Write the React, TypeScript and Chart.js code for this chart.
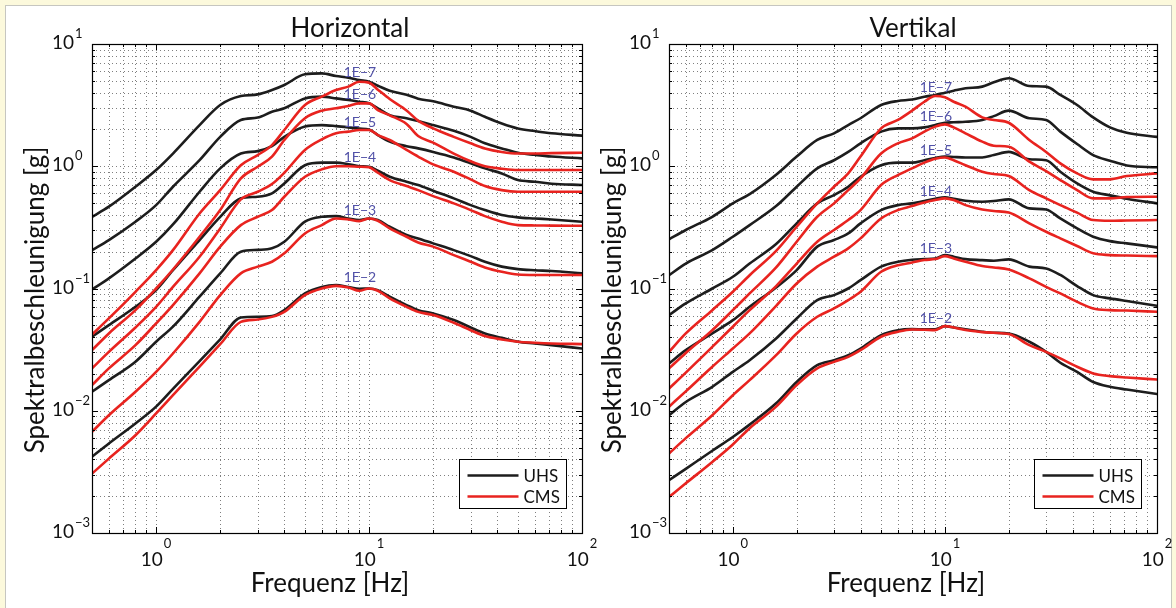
import React, { useEffect, useRef } from "react";
import { Chart, registerables } from "chart.js";

Chart.register(...registerables);

// ---------- data ----------
const freqs = [0.5, 0.6, 0.8, 1, 1.2, 1.6, 2, 2.5, 3, 3.5, 4, 5, 6, 7, 8, 9, 10, 11, 12.5, 15, 17, 20, 25, 30, 35, 42, 50, 60, 72, 100];

const levels = ["1E\u22127", "1E\u22126", "1E\u22125", "1E\u22124", "1E\u22123", "1E\u22122"];
const legendNames = ["UHS", "CMS"];
const xMajorTicks = [1, 10, 100];
const yMajorTicks = [0.001, 0.01, 0.1, 1, 10];
const labelFreq = 7.6;

// Horizontal – UHS
const hUhs7 = [0.386, 0.467, 0.68, 0.931, 1.27, 2.17, 3.17, 3.75, 3.87, 4.2, 4.62, 5.65, 5.75, 5.47, 5.3, 5.07, 4.91, 4.56, 4.15, 3.85, 3.57, 3.4, 3.07, 2.85, 2.54, 2.24, 2.04, 1.94, 1.86, 1.78];
const hUhs6 = [0.206, 0.249, 0.352, 0.481, 0.68, 1.12, 1.74, 2.39, 2.5, 2.79, 2.98, 3.59, 3.71, 3.59, 3.48, 3.37, 3.27, 2.98, 2.62, 2.47, 2.34, 2.17, 1.95, 1.74, 1.54, 1.4, 1.29, 1.24, 1.2, 1.16];
const hUhs5 = [0.0982, 0.121, 0.176, 0.241, 0.334, 0.619, 0.961, 1.27, 1.33, 1.46, 1.74, 2.11, 2.17, 2.13, 2.08, 2.03, 2.0, 1.8, 1.59, 1.46, 1.4, 1.31, 1.18, 1.06, 0.961, 0.874, 0.771, 0.747, 0.72, 0.702];
const hUhs4 = [0.0403, 0.0501, 0.0708, 0.097, 0.141, 0.249, 0.386, 0.546, 0.563, 0.6, 0.724, 1.02, 1.07, 1.07, 1.04, 1.0, 0.99, 0.919, 0.821, 0.747, 0.702, 0.63, 0.546, 0.481, 0.438, 0.399, 0.382, 0.374, 0.367, 0.352];
const hUhs3 = [0.0143, 0.0178, 0.0252, 0.0367, 0.0487, 0.0857, 0.133, 0.2, 0.207, 0.213, 0.241, 0.352, 0.386, 0.391, 0.374, 0.363, 0.374, 0.363, 0.32, 0.274, 0.257, 0.234, 0.206, 0.184, 0.1655, 0.151, 0.144, 0.141, 0.139, 0.133];
const hUhs2 = [0.0042, 0.0054, 0.00787, 0.0108, 0.0151, 0.0255, 0.0384, 0.058, 0.0588, 0.0595, 0.0665, 0.0911, 0.103, 0.1066, 0.103, 0.0996, 0.1001, 0.097, 0.0857, 0.0732, 0.0665, 0.0625, 0.0552, 0.048, 0.0429, 0.0395, 0.0367, 0.0355, 0.0344, 0.0323];

// Horizontal – CMS
const hCms7 = [0.042, 0.0569, 0.094, 0.1415, 0.206, 0.411, 0.638, 1.02, 1.235, 1.49, 1.98, 3.17, 3.71, 4.2, 4.48, 4.91, 4.82, 4.23, 3.55, 2.86, 2.36, 2.04, 1.74, 1.54, 1.4, 1.31, 1.27, 1.27, 1.28, 1.29];
const hCms6 = [0.0313, 0.0429, 0.0665, 0.1, 0.143, 0.265, 0.438, 0.796, 0.99, 1.2, 1.64, 2.47, 2.85, 2.98, 3.11, 3.27, 3.27, 2.88, 2.61, 2.22, 1.77, 1.56, 1.27, 1.1, 1.0, 0.955, 0.931, 0.931, 0.931, 0.931];
const hCms5 = [0.0222, 0.0303, 0.048, 0.0708, 0.103, 0.182, 0.31, 0.536, 0.619, 0.715, 0.885, 1.36, 1.66, 1.86, 1.92, 1.98, 1.98, 1.8, 1.64, 1.36, 1.2, 1.035, 0.902, 0.781, 0.689, 0.638, 0.619, 0.619, 0.619, 0.619];
const hCms4 = [0.0162, 0.0222, 0.0344, 0.0518, 0.0732, 0.133, 0.22, 0.33, 0.386, 0.438, 0.563, 0.821, 0.943, 1.0, 1.0, 0.99, 0.98, 0.885, 0.771, 0.689, 0.638, 0.57, 0.497, 0.438, 0.391, 0.352, 0.33, 0.328, 0.327, 0.326];
const hCms3 = [0.00672, 0.00919, 0.0143, 0.0208, 0.0294, 0.0533, 0.0883, 0.133, 0.151, 0.1655, 0.194, 0.282, 0.33, 0.374, 0.367, 0.356, 0.374, 0.358, 0.31, 0.265, 0.238, 0.22, 0.1876, 0.1655, 0.1487, 0.137, 0.13, 0.129, 0.129, 0.129];
const hCms2 = [0.00306, 0.00406, 0.00631, 0.0095, 0.0134, 0.023, 0.035, 0.0533, 0.0557, 0.0586, 0.0644, 0.0883, 0.1, 0.105, 0.102, 0.0958, 0.1, 0.0958, 0.083, 0.0708, 0.0644, 0.0606, 0.0524, 0.0456, 0.0408, 0.0383, 0.0367, 0.036, 0.0355, 0.0351];

// Vertikal – UHS
const vUhs7 = [0.252, 0.301, 0.386, 0.497, 0.592, 0.853, 1.2, 1.64, 1.86, 2.17, 2.47, 3.17, 3.42, 3.51, 3.7, 3.83, 4.0, 4.15, 4.34, 4.48, 4.86, 5.24, 4.53, 4.48, 3.83, 3.17, 2.51, 2.08, 1.88, 1.74];
const vUhs6 = [0.1285, 0.16, 0.206, 0.265, 0.33, 0.472, 0.68, 0.961, 1.12, 1.31, 1.54, 1.92, 2.04, 2.04, 2.08, 2.17, 2.27, 2.29, 2.31, 2.39, 2.57, 2.85, 2.47, 2.39, 1.92, 1.52, 1.235, 1.11, 1.016, 0.98];
const vUhs5 = [0.0606, 0.0755, 0.1, 0.1247, 0.16, 0.231, 0.341, 0.497, 0.581, 0.68, 0.821, 1.02, 1.07, 1.07, 1.12, 1.17, 1.2, 1.19, 1.18, 1.18, 1.235, 1.31, 1.14, 1.12, 0.902, 0.724, 0.619, 0.578, 0.542, 0.497];
const vUhs4 = [0.0244, 0.0313, 0.0429, 0.0551, 0.0708, 0.102, 0.1415, 0.22, 0.249, 0.282, 0.341, 0.438, 0.481, 0.497, 0.519, 0.542, 0.556, 0.542, 0.522, 0.513, 0.519, 0.536, 0.452, 0.443, 0.374, 0.31, 0.265, 0.244, 0.234, 0.217];
const vUhs3 = [0.00919, 0.0118, 0.0157, 0.0208, 0.0259, 0.039, 0.0569, 0.0804, 0.0883, 0.1, 0.117, 0.151, 0.1655, 0.172, 0.174, 0.176, 0.1875, 0.182, 0.174, 0.1708, 0.1686, 0.173, 0.151, 0.146, 0.129, 0.1047, 0.0883, 0.083, 0.0789, 0.0722];
const vUhs2 = [0.0027, 0.00335, 0.00471, 0.0061, 0.0077, 0.0115, 0.0172, 0.0236, 0.0259, 0.0285, 0.0323, 0.0416, 0.0456, 0.0465, 0.0464, 0.0464, 0.0492, 0.048, 0.0464, 0.0443, 0.0434, 0.0429, 0.0367, 0.0303, 0.0247, 0.0208, 0.0172, 0.0157, 0.0149, 0.0137];

// Vertikal – CMS
const vCms7 = [0.0303, 0.0429, 0.0665, 0.094, 0.1285, 0.203, 0.32, 0.497, 0.68, 0.874, 1.2, 2.04, 2.39, 2.85, 3.37, 3.75, 3.66, 3.37, 3.07, 2.51, 2.39, 2.27, 1.64, 1.31, 1.056, 0.874, 0.781, 0.781, 0.831, 0.874];
const vCms6 = [0.0222, 0.0297, 0.0456, 0.0665, 0.0911, 0.1487, 0.241, 0.386, 0.497, 0.638, 0.796, 1.27, 1.54, 1.69, 1.92, 2.11, 2.2, 2.08, 1.86, 1.59, 1.47, 1.445, 1.09, 0.913, 0.771, 0.638, 0.546, 0.546, 0.56, 0.563];
const vCms5 = [0.0152, 0.0205, 0.0333, 0.0487, 0.0665, 0.1047, 0.16, 0.241, 0.301, 0.363, 0.438, 0.702, 0.847, 0.961, 1.07, 1.15, 1.18, 1.12, 1.02, 0.902, 0.863, 0.831, 0.638, 0.546, 0.481, 0.417, 0.363, 0.358, 0.36, 0.363];
const vCms4 = [0.0108, 0.0144, 0.0229, 0.0323, 0.0429, 0.0722, 0.11, 0.151, 0.182, 0.213, 0.257, 0.374, 0.438, 0.472, 0.506, 0.529, 0.546, 0.529, 0.481, 0.443, 0.43, 0.419, 0.341, 0.291, 0.257, 0.2225, 0.1938, 0.1876, 0.186, 0.184];
const vCms3 = [0.00447, 0.00597, 0.00919, 0.0134, 0.0178, 0.0285, 0.0429, 0.0587, 0.0687, 0.0804, 0.094, 0.137, 0.155, 0.163, 0.171, 0.174, 0.184, 0.176, 0.1655, 0.1525, 0.1487, 0.143, 0.121, 0.103, 0.0911, 0.0778, 0.0687, 0.0665, 0.066, 0.0645];
const vCms2 = [0.00197, 0.00255, 0.00381, 0.0053, 0.0072, 0.0108, 0.0162, 0.0222, 0.0251, 0.0276, 0.0313, 0.0403, 0.0443, 0.0462, 0.046, 0.0457, 0.0492, 0.048, 0.0457, 0.044, 0.0434, 0.0424, 0.0344, 0.0303, 0.0268, 0.0229, 0.0202, 0.0192, 0.0187, 0.018];

// label heights (g) of the "1E-x" annotations
const hLabelY = [5.84, 3.83, 2.3, 1.17, 0.438, 0.124];
const vLabelY = [4.37, 2.53, 1.34, 0.621, 0.214, 0.0573];

// ---------- styles ----------
const FONT = "Lato, 'Liberation Sans', sans-serif";
const BLACK = "#1d1d1d";
const RED = "#e8231f";
const LABEL_BLUE = "#5252a8";

type PanelCfg = {
  title: string;
  titleDx: number;
  uhs: number[][];
  cms: number[][];
  labelY: number[];
};

function expText(v: number) {
  const e = Math.round(Math.log10(v));
  return e < 0 ? "\u2212" + String(-e) : String(e);
}

function gridValues(min: number, max: number) {
  const out: { v: number; major: boolean }[] = [];
  for (let e = -4; e <= 3; e++) {
    const d = Math.pow(10, e);
    for (let m = 1; m <= 9; m++) {
      const v = m * d;
      if (v >= min * 0.9999 && v <= max * 1.0001) out.push({ v, major: m === 1 });
    }
  }
  return out;
}

function makePlugin(cfg: PanelCfg) {
  return {
    id: "matlabPanel",
    beforeDatasetsDraw(chart: any) {
      const { ctx, chartArea: a, scales } = chart;
      const xs = scales.x;
      const ys = scales.y;
      ctx.save();
      ctx.beginPath();
      ctx.rect(a.left, a.top, a.right - a.left, a.bottom - a.top);
      ctx.clip();
      ctx.strokeStyle = "rgba(0,0,0,0.5)";
      ctx.lineWidth = 1;
      ctx.setLineDash([1, 3]);
      for (const g of gridValues(xs.min, xs.max)) {
        const px = Math.round(xs.getPixelForValue(g.v)) + 0.5;
        ctx.beginPath();
        ctx.moveTo(px, a.top);
        ctx.lineTo(px, a.bottom);
        ctx.stroke();
      }
      for (const g of gridValues(ys.min, ys.max)) {
        const py = Math.round(ys.getPixelForValue(g.v)) + 0.5;
        ctx.beginPath();
        ctx.moveTo(a.left, py);
        ctx.lineTo(a.right, py);
        ctx.stroke();
      }
      ctx.restore();
    },
    afterDatasetsDraw(chart: any) {
      const { ctx, chartArea: a, scales } = chart;
      const xs = scales.x;
      const ys = scales.y;
      ctx.save();
      // ticks
      ctx.strokeStyle = "#000";
      ctx.lineWidth = 1;
      ctx.setLineDash([]);
      for (const g of gridValues(xs.min, xs.max)) {
        const px = Math.round(xs.getPixelForValue(g.v)) + 0.5;
        const len = g.major ? 6 : 3;
        ctx.beginPath();
        ctx.moveTo(px, a.bottom);
        ctx.lineTo(px, a.bottom - len);
        ctx.moveTo(px, a.top);
        ctx.lineTo(px, a.top + len);
        ctx.stroke();
      }
      for (const g of gridValues(ys.min, ys.max)) {
        const py = Math.round(ys.getPixelForValue(g.v)) + 0.5;
        const len = g.major ? 6 : 3;
        ctx.beginPath();
        ctx.moveTo(a.left, py);
        ctx.lineTo(a.left + len, py);
        ctx.moveTo(a.right, py);
        ctx.lineTo(a.right - len, py);
        ctx.stroke();
      }
      // box
      ctx.lineWidth = 1.2;
      ctx.strokeRect(Math.round(a.left) + 0.5, Math.round(a.top) + 0.5, Math.round(a.right - a.left), Math.round(a.bottom - a.top));

      // labels 1E-x
      ctx.fillStyle = LABEL_BLUE;
      ctx.font = `14px ${FONT}`;
      ctx.textAlign = "left";
      ctx.textBaseline = "middle";
      const lx = xs.getPixelForValue(labelFreq);
      levels.forEach((t, i) => {
        ctx.fillText(t, lx, ys.getPixelForValue(cfg.labelY[i]));
      });

      // tick labels
      ctx.fillStyle = "#111";
      ctx.textBaseline = "alphabetic";
      ctx.textAlign = "left";
      for (const v of yMajorTicks) {
        const py = ys.getPixelForValue(v);
        ctx.font = `19px ${FONT}`;
        const x0 = a.left - 40;
        ctx.fillText("10", x0, py + 5);
        const w = ctx.measureText("10").width;
        ctx.font = `13px ${FONT}`;
        ctx.fillText(expText(v), x0 + w + 1, py - 6);
      }
      for (const v of xMajorTicks) {
        const px = xs.getPixelForValue(v);
        ctx.font = `19px ${FONT}`;
        const w = ctx.measureText("10").width;
        ctx.font = `13px ${FONT}`;
        const ew = ctx.measureText(expText(v)).width;
        const x0 = px - (w + ew + 1) / 2;
        ctx.font = `19px ${FONT}`;
        ctx.fillText("10", x0, a.bottom + 33);
        ctx.font = `13px ${FONT}`;
        ctx.fillText(expText(v), x0 + w + 1, a.bottom + 15);
      }

      // title and axis titles
      const cx = (a.left + a.right) / 2;
      ctx.font = `26px ${FONT}`;
      ctx.textAlign = "center";
      ctx.fillText(cfg.title, cx + cfg.titleDx, 37);
      ctx.fillText("Frequenz [Hz]", cx - 7, a.bottom + 59);
      ctx.save();
      ctx.translate(a.left - 48, 300);
      ctx.rotate(-Math.PI / 2);
      ctx.fillText("Spektralbeschleunigung [g]", 0, 0);
      ctx.restore();

      // legend
      const bw = 107;
      const bh = 49;
      const bx = Math.round(a.right - 16 - bw) + 0.5;
      const by = Math.round(a.bottom - 25 - bh) + 0.5;
      ctx.fillStyle = "#fff";
      ctx.fillRect(bx, by, bw, bh);
      ctx.strokeStyle = "#000";
      ctx.lineWidth = 1;
      ctx.strokeRect(bx, by, bw, bh);
      const cols = [BLACK, RED];
      legendNames.forEach((n, i) => {
        const yy = by + 16 + i * 21;
        ctx.strokeStyle = cols[i];
        ctx.lineWidth = 2.6;
        ctx.beginPath();
        ctx.moveTo(bx + 8, yy);
        ctx.lineTo(bx + 59, yy);
        ctx.stroke();
        ctx.fillStyle = "#111";
        ctx.font = `17px ${FONT}`;
        ctx.textAlign = "left";
        ctx.textBaseline = "middle";
        ctx.fillText(n, bx + 64, yy + 1);
      });
      ctx.restore();
    },
  };
}

function buildChart(canvas: HTMLCanvasElement, cfg: PanelCfg, pad: { left: number; right: number; top: number; bottom: number }) {
  const toPts = (arr: number[]) => freqs.map((f, j) => ({ x: f, y: arr[j] }));
  const datasets: any[] = [];
  cfg.cms.forEach((arr, i) => {
    datasets.push({ label: "CMS " + levels[i], data: toPts(arr), borderColor: RED, borderWidth: 2.6 });
  });
  cfg.uhs.forEach((arr, i) => {
    datasets.push({ label: "UHS " + levels[i], data: toPts(arr), borderColor: BLACK, borderWidth: 2.6 });
  });
  return new Chart(canvas, {
    type: "line",
    data: { datasets },
    options: {
      animation: false,
      responsive: false,
      events: [],
      layout: { padding: pad },
      elements: {
        point: { radius: 0 },
        line: { tension: 0, cubicInterpolationMode: "monotone", fill: false, borderCapStyle: "round", borderJoinStyle: "round" },
      },
      plugins: { legend: { display: false }, tooltip: { enabled: false }, title: { display: false } },
      scales: {
        x: { type: "logarithmic", min: 0.5, max: 100, display: false },
        y: { type: "logarithmic", min: 0.001, max: 10, display: false },
      },
    },
    plugins: [makePlugin(cfg)],
  } as any);
}

export default function App() {
  const leftRef = useRef<HTMLCanvasElement>(null);
  const rightRef = useRef<HTMLCanvasElement>(null);

  useEffect(() => {
    const left = buildChart(
      leftRef.current!,
      {
        title: "Horizontal",
        titleDx: 13,
        uhs: [hUhs7, hUhs6, hUhs5, hUhs4, hUhs3, hUhs2],
        cms: [hCms7, hCms6, hCms5, hCms4, hCms3, hCms2],
        labelY: hLabelY,
      },
      { left: 92, right: 620 - 582, top: 44, bottom: 608 - 533 }
    );
    const right = buildChart(
      rightRef.current!,
      {
        title: "Vertikal",
        titleDx: 0,
        uhs: [vUhs7, vUhs6, vUhs5, vUhs4, vUhs3, vUhs2],
        cms: [vCms7, vCms6, vCms5, vCms4, vCms3, vCms2],
        labelY: vLabelY,
      },
      { left: 669 - 570, right: 606 - 1157 + 570, top: 44, bottom: 608 - 533 }
    );
    return () => {
      left.destroy();
      right.destroy();
    };
  }, []);

  return (
    <div style={{ position: "fixed", left: 0, top: 0, width: 1176, height: 608, background: "#fcf9dc", overflow: "hidden" }}>
      <div
        style={{
          position: "absolute",
          left: 5,
          top: 5,
          width: 1167,
          height: 640,
          background: "#ffffff",
          border: "1px solid #c6c6c0",
          boxSizing: "border-box",
        }}
      />
      <canvas ref={leftRef} width={620} height={608} style={{ position: "absolute", left: 0, top: 0, display: "block" }} />
      <canvas ref={rightRef} width={606} height={608} style={{ position: "absolute", left: 570, top: 0, display: "block" }} />
    </div>
  );
}
